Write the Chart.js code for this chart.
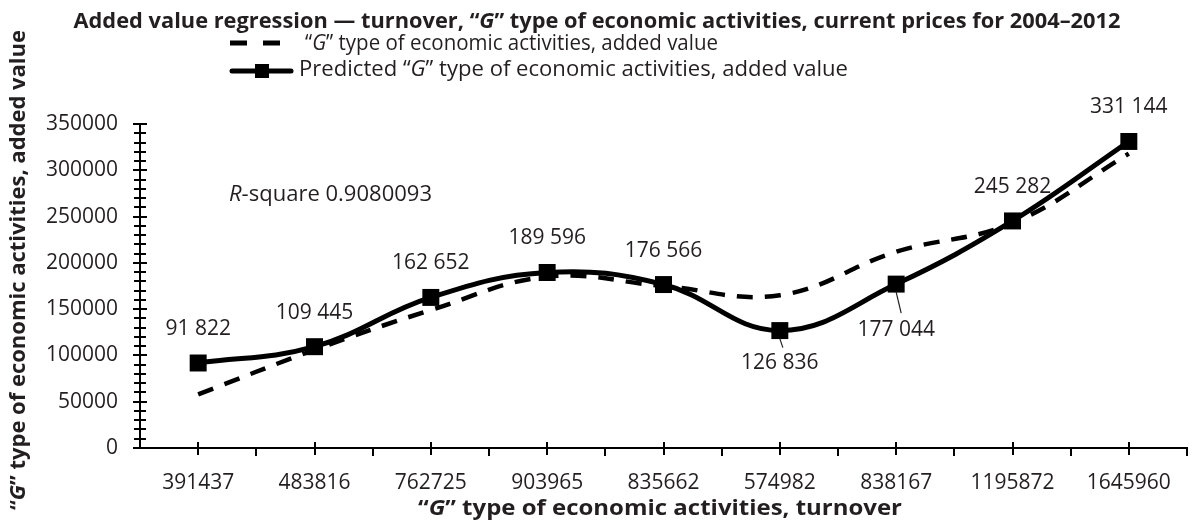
<!DOCTYPE html>
<html>
<head>
<meta charset="utf-8">
<script src="https://cdn.jsdelivr.net/npm/chart.js@4.4.1/dist/chart.umd.min.js"></script>
<style>
  html, body { margin: 0; padding: 0; background: #fff; }
  #wrap { width: 1199px; height: 529px; }
</style>
</head>
<body>
<div id="wrap"><canvas id="chartReg" width="1199" height="529"></canvas></div>
<script>
// turnover (category labels)
const turnoverLabels = ['391437', '483816', '762725', '903965', '835662', '574982', '838167', '1195872', '1645960'];
const addedValue = [58000, 106000, 149000, 185000, 175000, 165000, 212000, 243000, 318000];
// predicted added value (solid line with markers)
const predictedValue = [91822, 109445, 162652, 189596, 176566, 126836, 177044, 245282, 331144];
const valueLabels = ['91 822', '109 445', '162 652', '189 596', '176 566', '126 836', '177 044', '245 282', '331 144'];
const yTicks = [0, 50000, 100000, 150000, 200000, 250000, 300000, 350000];

const INK = '#231f20';
const FONT = '"Open Sans", "DejaVu Sans", sans-serif';

// draws mixed runs of text (italic parts), stretched to a target width
function drawRuns(ctx, runs, cx, cy, size, bold, targetW) {
  ctx.save();
  const fontFor = r => (r.it ? 'italic ' : '') + (bold ? 'bold ' : '') + size + 'px ' + FONT;
  let w = 0;
  runs.forEach(r => { ctx.font = fontFor(r); r.w = ctx.measureText(r.t).width; w += r.w; });
  const k = targetW ? targetW / w : 1;
  ctx.translate(cx - (w * k) / 2, cy);
  ctx.scale(k, 1);
  ctx.fillStyle = INK;
  ctx.textBaseline = 'middle';
  ctx.textAlign = 'left';
  let x = 0;
  runs.forEach(r => { ctx.font = fontFor(r); ctx.fillText(r.t, x, 0); x += r.w; });
  ctx.restore();
}

const decorPlugin = {
  id: 'decor',
  afterDraw(chart) {
    const ctx = chart.ctx;
    const xs = chart.scales.x, ys = chart.scales.y;
    const area = chart.chartArea;

    // axis ticks
    ctx.save();
    ctx.strokeStyle = '#000';
    ctx.lineWidth = 2;
    for (let v = 0; v <= 350000; v += 10000) {
      const y = Math.round(ys.getPixelForValue(v));
      const len = v % 50000 === 0 ? 7 : 6;
      ctx.beginPath(); ctx.moveTo(area.left - len, y); ctx.lineTo(area.left + len, y); ctx.stroke();
    }
    const step = xs.getPixelForValue(1) - xs.getPixelForValue(0);
    turnoverLabels.forEach((l, i) => {
      const x = Math.round(xs.getPixelForValue(i));
      ctx.beginPath(); ctx.moveTo(x, area.bottom - 6); ctx.lineTo(x, area.bottom + 7); ctx.stroke();
      const bx = Math.round(xs.getPixelForValue(i) + step / 2);
      ctx.beginPath(); ctx.moveTo(bx, area.bottom); ctx.lineTo(bx, area.bottom + 8); ctx.stroke();
    });
    ctx.restore();

    // value labels on the predicted series
    ctx.save();
    ctx.font = '21px ' + FONT;
    ctx.fillStyle = INK;
    ctx.textAlign = 'center';
    ctx.textBaseline = 'middle';
    predictedValue.forEach((v, i) => {
      const x = xs.getPixelForValue(i), y = ys.getPixelForValue(v);
      if (i === 5) {
        ctx.fillText(valueLabels[i], x, y + 32);
        ctx.strokeStyle = INK; ctx.lineWidth = 1.2;
        ctx.beginPath(); ctx.moveTo(x, y + 8); ctx.lineTo(x + 3, y + 17); ctx.stroke();
      } else if (i === 6) {
        ctx.fillText(valueLabels[i], x, y + 46);
        ctx.strokeStyle = INK; ctx.lineWidth = 1.2;
        ctx.beginPath(); ctx.moveTo(x, y + 8); ctx.lineTo(x + 5, y + 29); ctx.stroke();
      } else {
        ctx.fillText(valueLabels[i], x, y - 34);
      }
    });
    ctx.restore();

    // title
    drawRuns(ctx, [
      { t: 'Added value regression \u2014 turnover, \u201c' },
      { t: 'G', it: true },
      { t: '\u201d type of economic activities, current prices for 2004\u20132012' }
    ], 597, 22, 21, true, 1047);

    // legend
    ctx.save();
    ctx.strokeStyle = '#000';
    ctx.lineWidth = 5;
    ctx.setLineDash([17, 16]);
    ctx.beginPath(); ctx.moveTo(230, 43); ctx.lineTo(293, 43); ctx.stroke();
    ctx.setLineDash([]);
    ctx.lineWidth = 5;
    ctx.lineCap = 'round';
    ctx.beginPath(); ctx.moveTo(232, 71); ctx.lineTo(291, 71); ctx.stroke();
    ctx.fillStyle = '#000';
    ctx.fillRect(255, 64, 14, 14);
    ctx.restore();
    drawRuns(ctx, [
      { t: '\u201c' }, { t: 'G', it: true }, { t: '\u201d type of economic activities, added value' }
    ], (305 + 718) / 2, 44, 21, false, 413);
    drawRuns(ctx, [
      { t: 'Predicted \u201c' }, { t: 'G', it: true }, { t: '\u201d type of economic activities, added value' }
    ], (299 + 848) / 2, 70, 21, false, 549);

    // R-square
    drawRuns(ctx, [{ t: 'R', it: true }, { t: '-square 0.9080093' }], (229 + 432) / 2, 195, 21, false, 203);

    // axis titles
    drawRuns(ctx, [
      { t: '\u201c' }, { t: 'G', it: true }, { t: '\u201d type of economic activities, turnover' }
    ], 660, 509, 21, true, 484);
    ctx.save();
    ctx.translate(19, 270);
    ctx.rotate(-Math.PI / 2);
    drawRuns(ctx, [
      { t: '\u201c' }, { t: 'G', it: true }, { t: '\u201d type of economic activities, added value' }
    ], 0, 0, 21, true, 480);
    ctx.restore();
  }
};

new Chart(document.getElementById('chartReg'), {
  type: 'line',
  data: {
    labels: turnoverLabels,
    datasets: [
      {
        label: 'Predicted "G" type of economic activities, added value',
        data: predictedValue,
        borderColor: '#000',
        backgroundColor: '#000',
        borderWidth: 5,
        tension: 0.4,
        pointStyle: 'rect',
        pointRadius: 12,
        pointBorderWidth: 0
      },
      {
        label: '"G" type of economic activities, added value',
        data: addedValue,
        borderColor: '#000',
        borderWidth: 4.5,
        borderDash: [16, 12],
        tension: 0.4,
        pointRadius: 0
      }
    ]
  },
  options: {
    responsive: false,
    animation: false,
    layout: { padding: { top: 124, right: 3, left: 0, bottom: 0 } },
    plugins: {
      legend: { display: false },
      title: { display: false },
      tooltip: { enabled: false }
    },
    scales: {
      x: {
        offset: true,
        grid: { display: false, drawTicks: false },
        border: { display: true, color: '#000', width: 2 },
        ticks: { color: INK, font: { family: FONT, size: 21 }, padding: 22, maxRotation: 0, autoSkip: false },
        afterFit(scale) { scale.height = 81; }
      },
      y: {
        min: 0,
        max: 350000,
        grid: { display: false, drawTicks: false },
        border: { display: true, color: '#000', width: 2 },
        afterBuildTicks(scale) { scale.ticks = yTicks.map(v => ({ value: v })); },
        ticks: { color: INK, font: { family: FONT, size: 21 }, padding: 22, callback: v => String(v) },
        afterFit(scale) { scale.width = 140; }
      }
    }
  },
  plugins: [decorPlugin]
});
</script>
</body>
</html>
